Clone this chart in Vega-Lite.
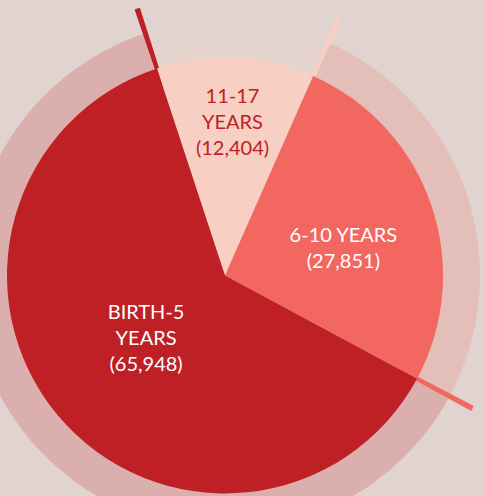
{
  "$schema": "https://vega.github.io/schema/vega-lite/v6.json",
  "width": 450,
  "height": 441,
  "autosize": {"type": "none"},
  "padding": {"left": 0, "top": 55, "right": 34, "bottom": 0},
  "background": "#e1d4d0",
  "config": {"view": {"stroke": null}},
  "datasets": {
    "slices": [
      {"group": "11-17 YEARS", "label": "11-17\nYEARS\n(12,404)", "value": 12404, "rank": 1},
      {"group": "6-10 YEARS", "label": "6-10 YEARS\n(27,851)", "value": 27851, "rank": 2},
      {"group": "BIRTH-5 YEARS", "label": "BIRTH-5\nYEARS\n(65,948)", "value": 65948, "rank": 3}
    ],
    "dividers": [
      {"group": "BIRTH-5 YEARS", "from": -170, "to": 170},
      {"group": "11-17 YEARS", "from": 12234, "to": 12574},
      {"group": "6-10 YEARS", "from": 40085, "to": 40425}
    ]
  },
  "layer": [
    {
      "data": {"name": "slices"},
      "mark": {"type": "arc", "outerRadius": 255, "opacity": 0.2},
      "encoding": {
        "theta": {"field": "value", "type": "quantitative", "stack": true,
          "scale": {"domain": [0, 106203], "range": [-0.31765, 5.96554]}},
        "order": {"field": "rank", "type": "quantitative"},
        "color": {"field": "group", "type": "nominal", "legend": null,
          "scale": {"domain": ["11-17 YEARS", "6-10 YEARS", "BIRTH-5 YEARS"], "range": ["#F7D0C3", "#F26760", "#BE2026"]}}
      }
    },
    {
      "data": {"name": "dividers"},
      "mark": {"type": "arc", "innerRadius": 200, "outerRadius": 281},
      "encoding": {
        "theta": {"field": "from", "type": "quantitative", "stack": null},
        "theta2": {"field": "to"},
        "color": {"field": "group", "type": "nominal", "legend": null}
      }
    },
    {
      "data": {"name": "slices"},
      "mark": {"type": "arc", "outerRadius": 218},
      "encoding": {
        "theta": {"field": "value", "type": "quantitative", "stack": true},
        "order": {"field": "rank", "type": "quantitative"},
        "color": {"field": "group", "type": "nominal", "legend": null}
      }
    },
    {
      "data": {"name": "slices"},
      "mark": {"type": "text", "font": "Lato", "fontSize": 20, "lineHeight": 26, "lineBreak": "\n", "align": "center", "baseline": "middle", "radius": 152, "dy": -27, "color": "#BE2026"},
      "encoding": {
        "theta": {"field": "value", "type": "quantitative", "stack": true},
        "order": {"field": "rank", "type": "quantitative"},
        "text": {"condition": {"test": "datum.rank == 1", "field": "label"}, "value": ""}
      }
    },
    {
      "data": {"name": "slices"},
      "mark": {"type": "text", "font": "Lato", "fontSize": 20, "lineHeight": 26, "lineBreak": "\n", "align": "center", "baseline": "middle", "radius": 122, "dx": 3, "dy": 0, "color": "#ffffff"},
      "encoding": {
        "theta": {"field": "value", "type": "quantitative", "stack": true},
        "order": {"field": "rank", "type": "quantitative"},
        "text": {"condition": {"test": "datum.rank == 2", "field": "label"}, "value": ""}
      }
    },
    {
      "data": {"name": "slices"},
      "mark": {"type": "text", "font": "Lato", "fontSize": 20, "lineHeight": 26, "lineBreak": "\n", "align": "center", "baseline": "middle", "radius": 103, "dy": -29, "color": "#ffffff"},
      "encoding": {
        "theta": {"field": "value", "type": "quantitative", "stack": true},
        "order": {"field": "rank", "type": "quantitative"},
        "text": {"condition": {"test": "datum.rank == 3", "field": "label"}, "value": ""}
      }
    }
  ]
}
